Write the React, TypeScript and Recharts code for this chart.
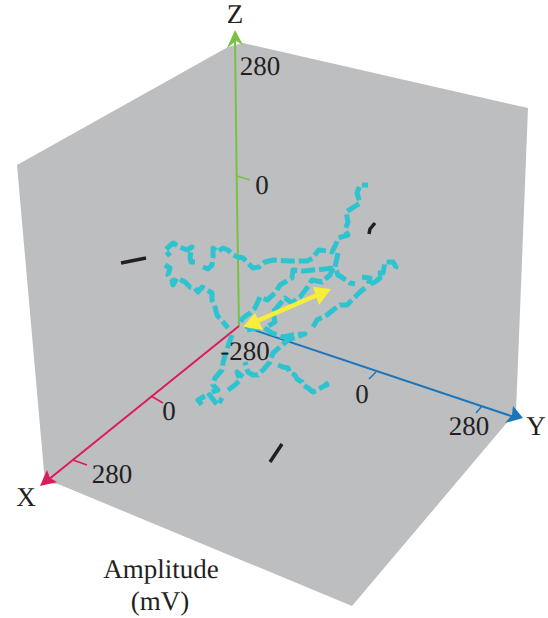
import React from 'react';
import { ScatterChart, Scatter, XAxis, YAxis } from 'recharts';

type Pt = { x: number; y: number };
type Tag = Pt & { label: string };

const pts = (...v: number[]): Pt[] => {
  const out: Pt[] = [];
  for (let i = 0; i < v.length; i += 2) out.push({ x: v[i], y: v[i + 1] });
  return out;
};

// picture is a 3D projection, so everything is read in page units
const wall = pts(17, 165, 228, 47, 243, 43, 528, 108, 516, 412, 352, 606, 58, 484, 45, 483);

const zAxisLine = pts(239, 326, 237, 200, 235, 40);
const xAxisLine = pts(239, 326, 48, 480);
const yAxisLine = pts(245, 327, 514, 417);

const zHead = pts(235, 30, 243, 45, 236, 41, 227, 48);
const xHead = pts(40, 486, 47, 470, 50, 478, 57, 482);
const yHead = pts(523, 418, 513, 406, 512, 415, 505, 423);

const axisTicks = [
  pts(237, 176, 250, 180),
  pts(151, 396, 163, 403),
  pts(73, 460, 87, 465),
  pts(376, 372, 369, 379),
  pts(482, 406, 476, 413),
];

const blackMarks = [
  pts(121, 263, 146, 258),
  pts(369, 234, 370, 229, 375, 223),
  pts(270, 462, 282, 444),
];

const traceUpper = pts(
  203, 267, 208, 269, 212, 265, 213, 257, 213, 248, 217, 252, 223, 248, 228, 250, 233, 255, 238, 257,
  243, 258, 248, 263, 253, 268, 259, 267, 265, 262, 273, 260, 290, 261, 307, 261, 313, 258, 317, 252,
  319, 250, 327, 251, 332, 252, 336, 244, 338, 238, 348, 235, 345, 230, 348, 222, 346, 212, 360, 203,
  357, 193, 360, 185, 368, 185,
);
const traceLoop = pts(
  195, 262, 191, 262, 190, 257, 192, 247, 187, 250, 182, 248, 173, 243, 165, 250, 170, 256,
);
const traceLeft = pts(
  165, 265, 170, 268, 168, 275, 172, 280, 173, 285, 177, 278, 185, 282, 190, 287, 195, 288, 198, 292,
  202, 287, 207, 290, 212, 293, 212, 300, 215, 307, 217, 315, 223, 322, 228, 328,
);
const traceRightTop = pts(
  338, 253, 335, 267, 338, 275, 343, 278, 350, 283, 355, 284,
);
const traceRightLoop = pts(
  362, 277, 370, 278, 368, 285, 375, 282, 380, 278, 377, 273, 383, 273, 385, 262, 393, 262, 396, 267,
  393, 272,
);
const traceRightDown = pts(
  365, 288, 360, 292, 355, 297, 352, 300, 347, 305, 340, 305, 333, 310, 327, 315, 317, 320, 313, 327,
);
const traceMiddle = pts(
  333, 268, 325, 269, 313, 270, 303, 271, 293, 270, 292, 278, 280, 285, 275, 293, 267, 300, 260, 297,
  255, 308, 250, 313, 243, 318, 240, 323,
);
const traceInner = pts(
  333, 268, 330, 275, 322, 282, 312, 280, 307, 288, 300, 297, 292, 303, 285, 298, 273, 312, 275, 322,
  267, 327,
);
const traceLower = pts(
  247, 330, 263, 327, 272, 333, 283, 337, 293, 335, 305, 334, 288, 340, 280, 347, 273, 353, 270, 362,
  263, 370, 258, 375, 253, 375, 248, 372, 245, 362,
);
const traceLowerLeft = pts(
  243, 377, 237, 372, 240, 380, 235, 385, 228, 390,
);
const traceStem = pts(
  232, 335, 226, 352, 223, 363, 222, 370, 215, 378, 213, 385, 218, 390, 208, 393, 212, 398, 215, 402,
  218, 405, 222, 398,
);
const traceTail = pts(205, 396, 198, 400, 203, 406);
const traceFoot = pts(
  278, 365, 283, 367, 288, 368, 290, 373, 295, 375, 297, 379, 302, 382, 303, 385, 308, 388, 313, 392,
  318, 390, 322, 387, 327, 385, 325, 382,
);

const arrowShaft = pts(250, 324, 322, 293);
const arrowHeadA = pts(243, 327, 255, 313, 263, 330);
const arrowHeadB = pts(331, 289, 313, 287, 319, 305);

const tags: Tag[] = [
  { x: 235, y: 14, label: 'Z' },
  { x: 260, y: 66, label: '280' },
  { x: 262, y: 185, label: '0' },
  { x: 245, y: 351, label: '-280' },
  { x: 169, y: 411, label: '0' },
  { x: 112, y: 474, label: '280' },
  { x: 362, y: 394, label: '0' },
  { x: 469, y: 426, label: '280' },
  { x: 26, y: 497, label: 'X' },
  { x: 536, y: 426, label: 'Y' },
  { x: 161, y: 569, label: 'Amplitude' },
  { x: 160, y: 601, label: '(mV)' },
];

const traces = [
  traceUpper, traceLoop, traceLeft, traceRightTop, traceRightLoop, traceRightDown,
  traceMiddle, traceInner, traceLower, traceLowerLeft, traceStem, traceTail, traceFoot,
];

const noDot = () => null;

const Stroke = (data: Pt[], color: string, width: number, dash?: string, key?: number) => (
  <Scatter
    key={key}
    data={data}
    isAnimationActive={false}
    shape={noDot}
    line={{ stroke: color, strokeWidth: width, strokeDasharray: dash, strokeLinejoin: 'round', fill: 'none' }}
  />
);

const Fill = (data: Pt[], color: string) => (
  <Scatter
    data={data}
    isAnimationActive={false}
    shape={noDot}
    line={{ stroke: 'none', fill: color }}
  />
);

const TagText = (props: any) => (
  <text
    x={props.cx}
    y={props.cy}
    textAnchor="middle"
    dominantBaseline="central"
    fontFamily="Liberation Serif"
    fontSize={27}
    textRendering="geometricPrecision"
    fill="#231f20"
  >
    {props.payload.label}
  </text>
);

export default function App() {
  return (
    <div style={{ position: 'absolute', left: 0, top: 0 }}>
      <ScatterChart width={548} height={618} margin={{ top: 0, right: 0, bottom: 0, left: 0 }}>
        <XAxis type="number" dataKey="x" domain={[0, 548]} hide />
        <YAxis type="number" dataKey="y" domain={[0, 618]} reversed hide />
        {Fill(wall, '#bcbec0')}
        {Stroke(zAxisLine, '#7ac143', 2)}
        {Stroke(xAxisLine, '#e0195a', 2)}
        {Stroke(yAxisLine, '#1b75bc', 2)}
        {Fill(zHead, '#7ac143')}
        {Fill(xHead, '#e0195a')}
        {Fill(yHead, '#1b75bc')}
        {Stroke(axisTicks[0], '#7ac143', 1.5)}
        {Stroke(axisTicks[1], '#e0195a', 1.5)}
        {Stroke(axisTicks[2], '#e0195a', 1.5)}
        {Stroke(axisTicks[3], '#1b75bc', 1.5)}
        {Stroke(axisTicks[4], '#1b75bc', 1.5)}
        {blackMarks.map((m, i) => Stroke(m, '#231f20', 3.5, undefined, i))}
        {traces.map((t, i) => Stroke(t, '#2ec4cf', 5, '14 4', i + 10))}
        {Stroke(arrowShaft, '#f7ee3a', 4.5)}
        {Fill(arrowHeadA, '#f7ee3a')}
        {Fill(arrowHeadB, '#f7ee3a')}
        <Scatter data={tags} isAnimationActive={false} shape={TagText} />
      </ScatterChart>
    </div>
  );
}
